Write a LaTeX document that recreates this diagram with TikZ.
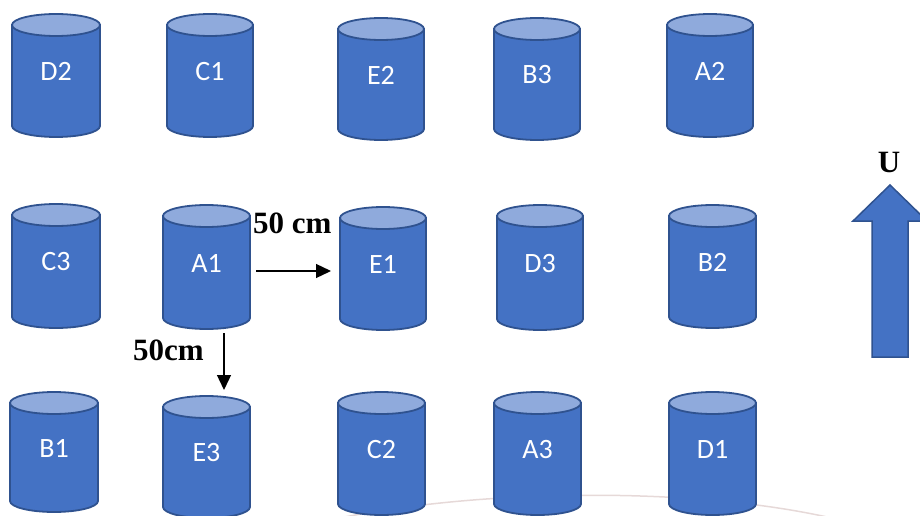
\documentclass[tikz,border=0pt]{standalone}
\usepackage{fontspec}
\setmainfont{Liberation Serif}
\newfontfamily\tanklabfont{Carlito}
\usetikzlibrary{arrows.meta}
\definecolor{tankfill}{HTML}{4472C4}
\definecolor{tanktop}{HTML}{8FAADC}
\definecolor{tankline}{HTML}{2F528F}
\definecolor{faintarc}{HTML}{E6D9D8}

\tikzset{
  tank/.style={fill=tankfill, draw=tankline, line width=1.8pt},
  tanklid/.style={fill=tanktop, draw=tankline, line width=1.8pt},
  tanklabel/.style={text=white, inner sep=0pt, font=\tanklabfont\fontsize{28}{28}\selectfont},
  dist/.style={inner sep=0pt, font=\bfseries\fontsize{31}{31}\selectfont},
  gap/.style={line width=1.3pt, -{Triangle[length=15pt,width=14pt]}},
  flowarrow/.style={fill=tankfill, draw=tankline, line width=1.5pt, line join=miter},
}

% one tank: left x, right x, top y, bottom y, name (also its label)
\newcommand\tank[5]{%
  \pgfmathsetmacro\tcx{(#1+#2)/2}%
  \pgfmathsetmacro\trx{(#2-#1)/2}%
  \pgfmathsetmacro\tyt{#3+11}%
  \pgfmathsetmacro\tyb{#4-11}%
  \pgfmathsetmacro\tym{(#3+#4)/2-4}%
  \filldraw[tank] (#1,\tyt) -- (#1,\tyb)
    arc[start angle=180, end angle=0, x radius=\trx, y radius=11]
    -- (#2,\tyt) -- cycle;
  \filldraw[tanklid] (\tcx,\tyt) ellipse[x radius=\trx, y radius=11];
  \node[tanklabel] (#5) at (\tcx,\tym) {#5};
}

\begin{document}
\begin{tikzpicture}[x=1pt, y=-1pt]
  \useasboundingbox (0,0) rectangle (920,516);
  \clip (0,0) rectangle (920,516);

  % faint arc near the bottom edge
  \draw[faintarc, line width=1.5pt] (330,520) .. controls (480,488) and (700,486) .. (840,520);

  % first row
  \tank{12}{100}{14}{137}{D2}
  \tank{167}{253}{14}{137}{C1}
  \tank{338}{424}{18}{140}{E2}
  \tank{494}{580}{18}{140}{B3}
  \tank{667}{753}{14}{137}{A2}

  % second row
  \tank{12}{100}{204}{328}{C3}
  \tank{163}{250}{205}{329}{A1}
  \tank{340}{426}{207}{330}{E1}
  \tank{497}{583}{205}{330}{D3}
  \tank{669}{756}{205}{328}{B2}

  % third row
  \tank{10}{98}{392}{512}{B1}
  \tank{163}{250}{396}{518}{E3}
  \tank{338}{425}{392}{515}{C2}
  \tank{494}{581}{392}{515}{A3}
  \tank{669}{756}{392}{515}{D1}

  % spacing arrows
  \coordinate (hs) at (256,271);
  \coordinate (he) at (331,271);
  \draw[gap] (hs) -- (he);
  \node[dist, anchor=base west] (hlab) at (253,233) {50 cm};

  \coordinate (vs) at (224,333);
  \coordinate (ve) at (224,390);
  \draw[gap] (vs) -- (ve);
  \node[dist, anchor=base west] (vlab) at (133,360) {50cm};

  % flow direction
  \filldraw[flowarrow] (872,357) -- (872,221) -- (853,221) -- (890,185)
    -- (927,221) -- (908,221) -- (908,357) -- cycle;
  \node[dist, anchor=base] (ulab) at (889,172) {U};
\end{tikzpicture}
\end{document}
